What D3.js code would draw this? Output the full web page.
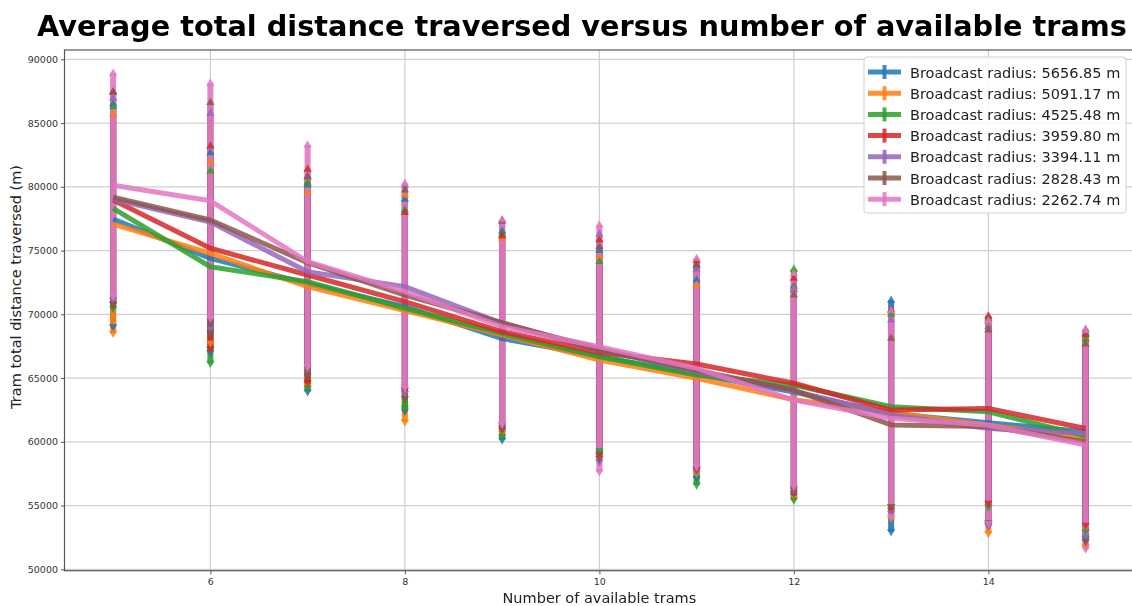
<!DOCTYPE html>
<html>
<head>
<meta charset="utf-8">
<script src="https://cdn.jsdelivr.net/npm/d3@7"></script>
<style>
body{margin:0;background:#fff;}
svg text{font-family:'DejaVu Sans',sans-serif;}
</style>
</head>
<body>
<script>
const width=1132;
const height=606;

const trams=[5,6,7,8,9,10,11,12,13,14,15];
const radii=['5656.85','5091.17','4525.48','3959.80','3394.11','2828.43','2262.74'];
const colors=['#1f77b4','#ff7f0e','#2ca02c','#d62728','#9467bd','#8c564b','#e377c2'];
const yTicks=[50000,55000,60000,65000,70000,75000,80000,85000,90000];
const xTicks=[6,8,10,12,14];

// mean distance per series
const means=[
  [77470,74390,72400,70600,68100,66700,65300,63900,62230,61500,60780],
  [77080,74780,72170,70300,68400,66410,64980,63300,62300,61300,60300],
  [78310,73730,72560,70470,68500,66670,65240,64450,62750,62360,60440],
  [78960,75180,73080,70990,68640,67000,66100,64590,62490,62620,61040],
  [79020,77240,73340,72170,69300,67300,65500,64000,62100,61040,60650],
  [79180,77400,74050,71510,69340,67200,65600,64060,61320,61200,60000],
  [80118,78900,74130,71780,69030,67460,65760,63270,61840,61300,59750]
];
// upper error ends
const uppers=[
  [86500,82670,80140,79010,76500,75000,72690,72200,71100,69500,68500],
  [85690,81920,79540,79350,75960,74470,72300,72000,70200,69400,68200],
  [86280,81240,80300,78180,76300,74130,73800,73530,70000,69680,68040],
  [87400,83200,81370,77970,76140,75830,74200,72820,70340,69860,68380],
  [86940,85760,80790,80100,77400,76270,73530,71900,69550,69030,68820],
  [87460,86600,80790,79750,77300,75300,73870,71510,68110,68770,67670],
  [88900,88120,83280,80270,77400,77000,74380,73200,70300,69500,68700]
];
// lower error ends
const lowers=[
  [69030,67000,63930,62400,60140,59100,57130,55800,52960,53500,52400],
  [68520,67730,64400,61580,60700,58800,57520,55600,54000,52820,51780],
  [70470,66160,64200,62630,60400,59300,56610,55430,54910,54910,52960],
  [70800,67260,64640,64060,61100,58960,57900,56000,54650,55180,53470],
  [71100,68850,65760,63800,61310,58440,57700,56200,54400,53390,52570],
  [70800,68520,65160,63410,60920,58700,57840,56350,54910,53650,52180],
  [71400,69700,65900,64200,61400,57650,58040,56480,54130,53600,51600]
];

const plot={left:64.5,top:50,bottom:570.7,right:1134.25};

const svg=d3.select('body').append('svg').attr('width',width).attr('height',height);

const x=d3.scaleLinear().domain([4.5,15.5]).range([plot.left,plot.right]);
const y=d3.scaleLinear().domain([49890,90730]).range([plot.bottom,plot.top]);

// grid
svg.append('g').selectAll('line').data(yTicks).enter().append('line')
  .attr('x1',plot.left).attr('x2',plot.right)
  .attr('y1',d=>y(d)).attr('y2',d=>y(d))
  .attr('stroke','#cfcfcf').attr('stroke-width',1.2);
svg.append('g').selectAll('line').data(xTicks).enter().append('line')
  .attr('y1',plot.top).attr('y2',plot.bottom)
  .attr('x1',d=>x(d)).attr('x2',d=>x(d))
  .attr('stroke','#cfcfcf').attr('stroke-width',1.2);

// axes
const yAxis=d3.axisLeft(y).tickValues(yTicks).tickSize(3.5).tickPadding(3).tickFormat(d3.format('d'));
const gy=svg.append('g').attr('transform',`translate(${plot.left},0)`).call(yAxis);
const xAxis=d3.axisBottom(x).tickValues(xTicks).tickSize(3.5).tickPadding(4).tickFormat(d3.format('d'));
const gx=svg.append('g').attr('transform',`translate(0,${plot.bottom})`).call(xAxis);
[gx,gy].forEach(g=>{
  g.select('.domain').remove();
  g.selectAll('.tick line').attr('stroke','#555');
  g.selectAll('.tick text').attr('fill','#333').style('font-size','9.5px').style('font-family',"'DejaVu Sans',sans-serif");
});

// frame
svg.append('rect').attr('x',plot.left).attr('y',plot.top)
  .attr('width',plot.right-plot.left).attr('height',plot.bottom-plot.top)
  .attr('fill','none').attr('stroke','#555').attr('stroke-width',1.2);

// error bars
const bars=svg.append('g');
radii.forEach((r,i)=>{
  bars.selectAll('.bar'+i).data(trams).enter().append('line')
    .attr('x1',d=>x(d)).attr('x2',d=>x(d))
    .attr('y1',(d,j)=>y(uppers[i][j])).attr('y2',(d,j)=>y(lowers[i][j]))
    .attr('stroke',colors[i]).attr('stroke-width',6).attr('opacity',0.9);
});

// mean lines
const line=d3.line().x(d=>x(d[0])).y(d=>y(d[1]));
radii.forEach((r,i)=>{
  svg.append('path').datum(trams.map((t,j)=>[t,means[i][j]]))
    .attr('d',line).attr('fill','none')
    .attr('stroke',colors[i]).attr('stroke-width',5).attr('stroke-linejoin','round')
    .attr('opacity',0.85);
});

// caps
const up=d3.symbol().type(d3.symbolTriangle).size(30);
radii.forEach((r,i)=>{
  const g=svg.append('g').attr('fill',colors[i]).attr('opacity',0.85);
  g.selectAll('.u').data(trams).enter().append('path')
    .attr('d',up).attr('transform',(d,j)=>`translate(${x(d)},${y(uppers[i][j])})`);
  g.selectAll('.l').data(trams).enter().append('path')
    .attr('d',up).attr('transform',(d,j)=>`translate(${x(d)},${y(lowers[i][j])}) rotate(180)`);
});

// labels
svg.append('text').text('Average total distance traversed versus number of available trams')
  .attr('x',582).attr('y',36).attr('text-anchor','middle')
  .style('font-size','28.75px').style('font-weight','bold').attr('fill','#000');
svg.append('text').text('Number of available trams')
  .attr('x',(plot.left+plot.right)/2).attr('y',603).attr('text-anchor','middle')
  .style('font-size','14.5px').attr('fill','#222');
svg.append('text').text('Tram total distance traversed (m)')
  .attr('transform','translate(21,287) rotate(-90)').attr('text-anchor','middle')
  .style('font-size','14.5px').attr('fill','#222');

// legend
const lg=svg.append('g').attr('transform','translate(864,57)');
lg.append('rect').attr('width',262).attr('height',156).attr('rx',3)
  .attr('fill','#fff').attr('fill-opacity',0.85).attr('stroke','#d0d0d0');
radii.forEach((r,i)=>{
  const row=lg.append('g').attr('transform',`translate(0,${15+i*21.2})`);
  row.append('line').attr('x1',4).attr('x2',37).attr('stroke',colors[i]).attr('stroke-width',5).attr('opacity',0.85);
  row.append('line').attr('x1',20.5).attr('x2',20.5).attr('y1',-7).attr('y2',7).attr('stroke',colors[i]).attr('stroke-width',4).attr('opacity',0.85);
  row.append('text').text(`Broadcast radius: ${r} m`).attr('x',46).attr('y',5.5)
    .style('font-size','14.5px').attr('fill','#222');
});
</script>
</body>
</html>
